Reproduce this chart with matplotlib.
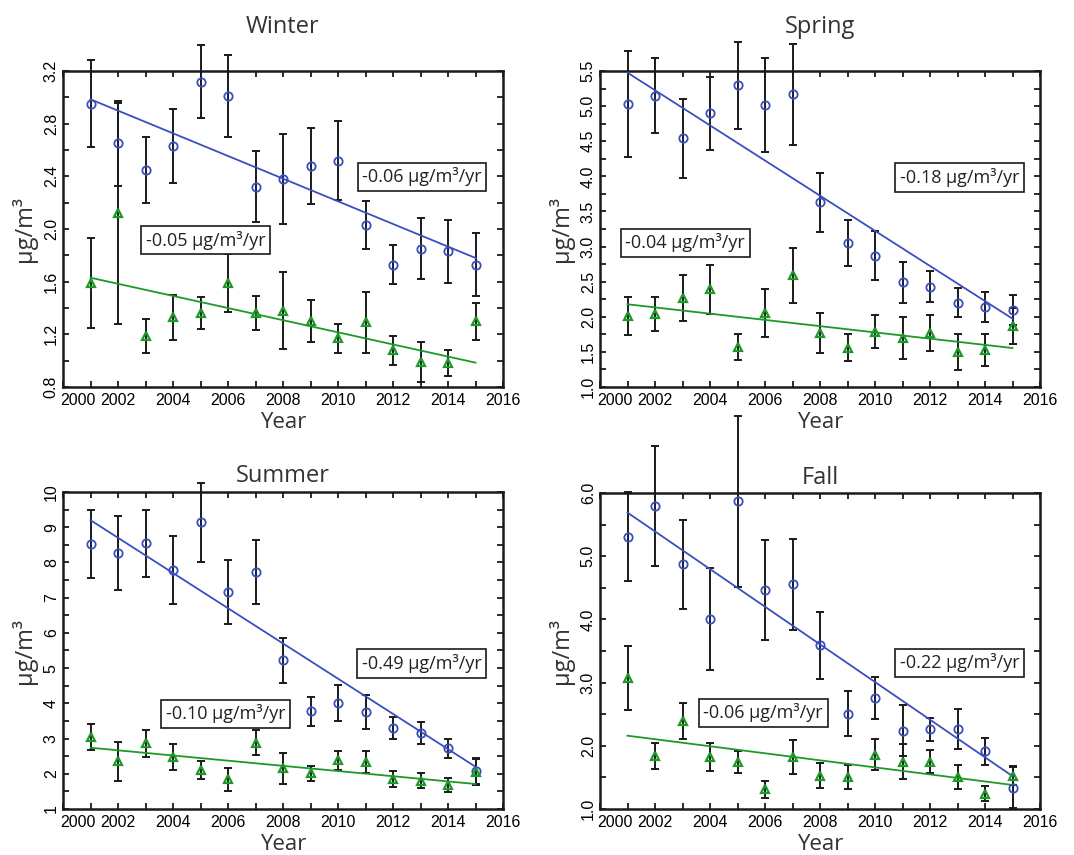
import matplotlib
matplotlib.use('Agg')
import matplotlib.pyplot as plt
from matplotlib import ticker
from matplotlib.transforms import ScaledTranslation

plt.rcParams['font.family'] = ['Open Sans', 'DejaVu Sans']

years = list(range(2001, 2016))

# Winter
winter_blue = [2.95, 2.65, 2.45, 2.63, 3.12, 3.01, 2.32, 2.38, 2.48, 2.52, 2.03, 1.73, 1.85, 1.83, 1.73]
winter_blue_err = [0.33, 0.32, 0.25, 0.28, 0.28, 0.31, 0.27, 0.34, 0.29, 0.30, 0.18, 0.15, 0.23, 0.24, 0.24]
winter_green = [1.59, 2.12, 1.19, 1.33, 1.36, 1.59, 1.36, 1.38, 1.30, 1.17, 1.29, 1.08, 0.99, 0.98, 1.30]
winter_green_err = [0.34, 0.84, 0.13, 0.17, 0.12, 0.22, 0.13, 0.29, 0.16, 0.11, 0.23, 0.11, 0.15, 0.10, 0.14]
winter_trend_blue = [2.985, 1.78]
winter_trend_green = [1.63, 0.985]

# Spring
spring_blue = [5.03, 5.15, 4.54, 4.90, 5.30, 5.02, 5.17, 3.63, 3.05, 2.87, 2.49, 2.43, 2.20, 2.14, 2.10]
spring_blue_err = [0.75, 0.53, 0.56, 0.52, 0.62, 0.67, 0.72, 0.42, 0.33, 0.35, 0.29, 0.22, 0.21, 0.21, 0.21]
spring_green = [2.01, 2.04, 2.27, 2.39, 1.57, 2.05, 2.59, 1.77, 1.56, 1.79, 1.70, 1.77, 1.50, 1.53, 1.87]
spring_green_err = [0.27, 0.24, 0.33, 0.35, 0.19, 0.34, 0.39, 0.28, 0.19, 0.23, 0.30, 0.26, 0.26, 0.23, 0.26]
spring_trend_blue = [5.476, 1.973]
spring_trend_green = [2.178, 1.555]

# Summer
summer_blue = [8.53, 8.28, 8.55, 7.78, 9.14, 7.16, 7.73, 5.22, 3.78, 4.01, 3.76, 3.31, 3.15, 2.72, 2.09]
summer_blue_err = [0.96, 1.05, 0.95, 0.97, 1.12, 0.92, 0.92, 0.63, 0.41, 0.50, 0.48, 0.31, 0.31, 0.28, 0.37]
summer_green = [3.05, 2.35, 2.86, 2.48, 2.11, 1.84, 2.88, 2.15, 2.01, 2.39, 2.34, 1.85, 1.80, 1.68, 2.04]
summer_green_err = [0.37, 0.55, 0.38, 0.37, 0.26, 0.33, 0.35, 0.44, 0.21, 0.27, 0.32, 0.22, 0.21, 0.21, 0.37]
summer_trend_blue = [9.20, 2.20]
summer_trend_green = [2.74, 1.71]

# Fall
fall_blue = [5.31, 5.80, 4.87, 4.01, 5.87, 4.47, 4.56, 3.59, 2.51, 2.76, 2.24, 2.26, 2.27, 1.91, 1.34]
fall_blue_err = [0.70, 0.95, 0.70, 0.81, 1.35, 0.79, 0.72, 0.53, 0.35, 0.33, 0.40, 0.18, 0.32, 0.21, 0.33]
fall_green = [3.07, 1.84, 2.39, 1.82, 1.74, 1.31, 1.82, 1.53, 1.51, 1.86, 1.75, 1.75, 1.50, 1.24, 1.53]
fall_green_err = [0.51, 0.21, 0.28, 0.22, 0.17, 0.14, 0.27, 0.19, 0.19, 0.24, 0.28, 0.18, 0.19, 0.12, 0.15]
fall_trend_blue = [5.69, 1.52]
fall_trend_green = [2.16, 1.38]

trend_years = [2001, 2015]
year_ticks = list(range(2000, 2017, 2))
blue = '#3a4fbf'
green = '#1c9a28'

panels = [
    ('Winter', [63, 71, 440, 316], winter_blue, winter_blue_err, winter_green, winter_green_err,
     winter_trend_blue, winter_trend_green, (0.8, 3.2), 0.4, '%.1f', 1.12,
     '-0.06 μg/m³/yr', (0.816, 0.665), '-0.05 μg/m³/yr', (0.324, 0.465)),
    ('Spring', [600, 71, 440, 316], spring_blue, spring_blue_err, spring_green, spring_green_err,
     spring_trend_blue, spring_trend_green, (1.0, 5.5), 0.5, '%.1f', 1.12,
     '-0.18 μg/m³/yr', (0.817, 0.663), '-0.04 μg/m³/yr', (0.194, 0.457)),
    ('Summer', [63, 492, 440, 317], summer_blue, summer_blue_err, summer_green, summer_green_err,
     summer_trend_blue, summer_trend_green, (1, 10), 1, '%d', 1.03,
     '-0.49 μg/m³/yr', (0.815, 0.459), '-0.10 μg/m³/yr', (0.370, 0.301)),
    ('Fall', [600, 493, 440, 316], fall_blue, fall_blue_err, fall_green, fall_green_err,
     fall_trend_blue, fall_trend_green, (1.0, 6.0), 1.0, '%.1f', 1.03,
     '-0.22 μg/m³/yr', (0.817, 0.463), '-0.06 μg/m³/yr', (0.371, 0.304)),
]

W, H = 1074, 855
fig = plt.figure(figsize=(W / 100, H / 100), dpi=100)

for (title, box, b, be, g, ge, tb, tg, ylim, ystep, yfmt, ty,
     txt_b, pos_b, txt_g, pos_g) in panels:
    x0, y0, w, h = box
    ax = fig.add_axes([x0 / W, 1 - (y0 + h) / H, w / W, h / H])

    ax.errorbar(years, b, yerr=be, fmt='none', ecolor='#1a1a1a', elinewidth=1.4,
                capsize=3, capthick=1.4, clip_on=False, zorder=2)
    ax.errorbar(years, g, yerr=ge, fmt='none', ecolor='#1a1a1a', elinewidth=1.4,
                capsize=3, capthick=1.4, clip_on=False, zorder=2)
    ax.plot(trend_years, tb, color=blue, linewidth=1.3, zorder=3)
    ax.plot(trend_years, tg, color=green, linewidth=1.3, zorder=3)
    ax.plot(years, b, 'o', markersize=6, markerfacecolor='none', markeredgecolor=blue,
            markeredgewidth=1.3, zorder=4, clip_on=False)
    ax.plot(years, g, '^', markersize=6, markerfacecolor='none', markeredgecolor=green,
            markeredgewidth=1.6, zorder=4, clip_on=False)

    ax.set_xlim(2000, 2016)
    ax.set_ylim(*ylim)
    ax.set_xticks(year_ticks)
    ax.set_xticklabels([str(y) for y in year_ticks])
    ax.xaxis.set_minor_locator(ticker.MultipleLocator(1))
    ax.yaxis.set_major_locator(ticker.MultipleLocator(ystep))
    ax.yaxis.set_minor_locator(ticker.MultipleLocator(ystep / 2))
    ax.yaxis.set_major_formatter(ticker.FormatStrFormatter(yfmt))
    ax.tick_params(which='both', direction='in', top=True, right=True,
                   length=4, width=1.3, color='#1a1a1a')
    ax.tick_params(axis='x', labelsize=11.5, pad=4)
    ax.tick_params(axis='y', labelsize=11.5, pad=3, labelrotation=90)
    for lab in ax.get_xticklabels() + ax.get_yticklabels():
        lab.set_family('Liberation Sans')
    for lab in ax.get_yticklabels():
        lab.set_va('center')
    first = ax.get_xticklabels()[0]
    first.set_ha('left')
    first.set_transform(first.get_transform() + ScaledTranslation(-0.03, 0, fig.dpi_scale_trans))
    for sp in ax.spines.values():
        sp.set_linewidth(1.8)
        sp.set_color('#1a1a1a')

    ax.set_xlabel('Year', fontsize=16, color='#333333', labelpad=3)
    ax.set_ylabel('μg/m³', fontsize=17, color='#333333', labelpad=5)
    ax.text(0.5, ty, title, transform=ax.transAxes, ha='center', va='baseline',
            fontsize=17, color='#333333')

    bbox = dict(boxstyle='square,pad=0.25', facecolor='white', edgecolor='#1a1a1a', linewidth=1.2)
    ax.text(pos_b[0], pos_b[1], txt_b, transform=ax.transAxes, ha='center', va='center',
            fontsize=13, color='#222222', bbox=bbox, zorder=5)
    ax.text(pos_g[0], pos_g[1], txt_g, transform=ax.transAxes, ha='center', va='center',
            fontsize=13, color='#222222', bbox=bbox, zorder=5)

fig.savefig('out.png', dpi=100)
